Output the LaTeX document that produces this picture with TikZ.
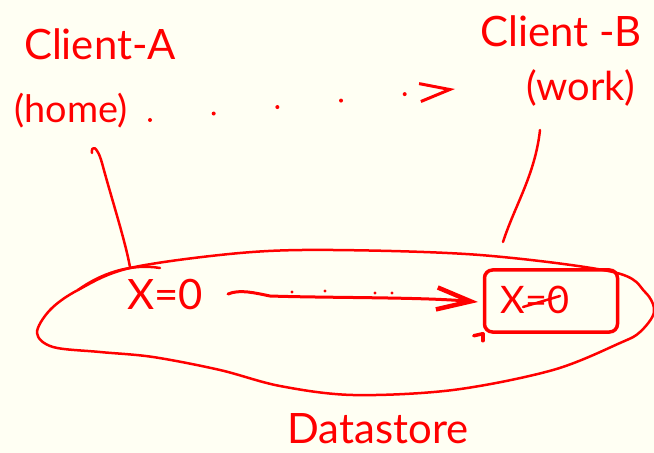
\documentclass[tikz,border=0pt]{standalone}
\usepackage{fontspec}
\setmainfont{Lato}
\usetikzlibrary{arrows.meta}
\definecolor{bg}{RGB}{255,255,243}
\definecolor{ink}{RGB}{255,0,0}
\begin{document}
\begin{tikzpicture}[x=1bp,y=-1bp,
  lbl/.style={text=ink, inner sep=0pt, font=\fontsize{#1}{#1}\selectfont},
  stroke/.style={draw=ink, line width=2.5bp, line cap=round, line join=round}]
\fill[bg] (0,0) rectangle (654,453);
\useasboundingbox (0,0) rectangle (654,453);

% labels
\node[lbl=42] (clientA) at (100,44) {Client-A};
\node[lbl=38] (home) at (71,111) {(home)};
\node[lbl=42] (clientB) at (561,31) {Client -B};
\node[lbl=40] (work) at (581,88) {(work)};
\node[lbl=42] (xa) at (165,294) {X=0};
\node[lbl=38] (xb) at (535,300) {X=0};
\node[lbl=42] (store) at (378,429) {Datastore};

% data store blob
\draw[stroke] plot[smooth cycle, tension=0.55] coordinates {
  (37,333) (50,310) (78,290) (130,268) (240,253) (333,250) (480,255)
  (613,272) (645,292) (654,312) (640,332) (620,343) (553,370) (453,390)
  (353,395) (280,386) (220,370) (153,357) (100,352) (53,347)};
\draw[stroke] (78,290) .. controls (100,274) and (130,263) .. (160,268);

% box around x=0 at B
\node[draw=ink, line width=3.5bp, rounded corners=8bp, minimum width=133bp,
      minimum height=62bp, inner sep=0pt] (boxB) at (551,301) {};
\draw[stroke, line width=3.5bp] (boxB.south west) -- ++(0,7);
\draw[stroke, line width=3.5bp] (boxB.south west) -- ++(-9,2);
\draw[stroke] (523,307) -- (560,296);

% connectors from clients to the store
\coordinate (hA) at (92,153);
\coordinate (bA) at (130,267);
\draw[stroke] (hA) .. controls (91,145) and (97,145) .. (102,163)
  .. controls (112,200) and (125,240) .. (bA);
\coordinate (wB) at (540,130);
\coordinate (bB) at (503,242);
\draw[stroke] (wB) .. controls (535,175) and (515,205) .. (bB);

% dotted arrow home -> work
\coordinate (dotA) at (150,120);
\coordinate (tipA) at (455,89);
\draw[draw=ink, line width=4bp, line cap=round, dash pattern=on 0pt off 64bp,
  -{Straight Barb[length=30bp,width=18bp,line width=3bp]}] (dotA) -- (tipA);

% replication arrow x=0 -> box
\coordinate (sA) at (228,294);
\coordinate (eB) at (478,302);
\draw[stroke, line width=3bp,
  -{Straight Barb[length=34bp,width=22bp,line width=4.5bp]}]
  (sA) .. controls (240,289) and (255,293) .. (270,296)
  .. controls (330,298) and (420,297) .. (eB);
\foreach \p in {(292,292),(325,291),(375,293),(392,293)}
  \fill[ink] \p circle (1.6bp);
\end{tikzpicture}
\end{document}
